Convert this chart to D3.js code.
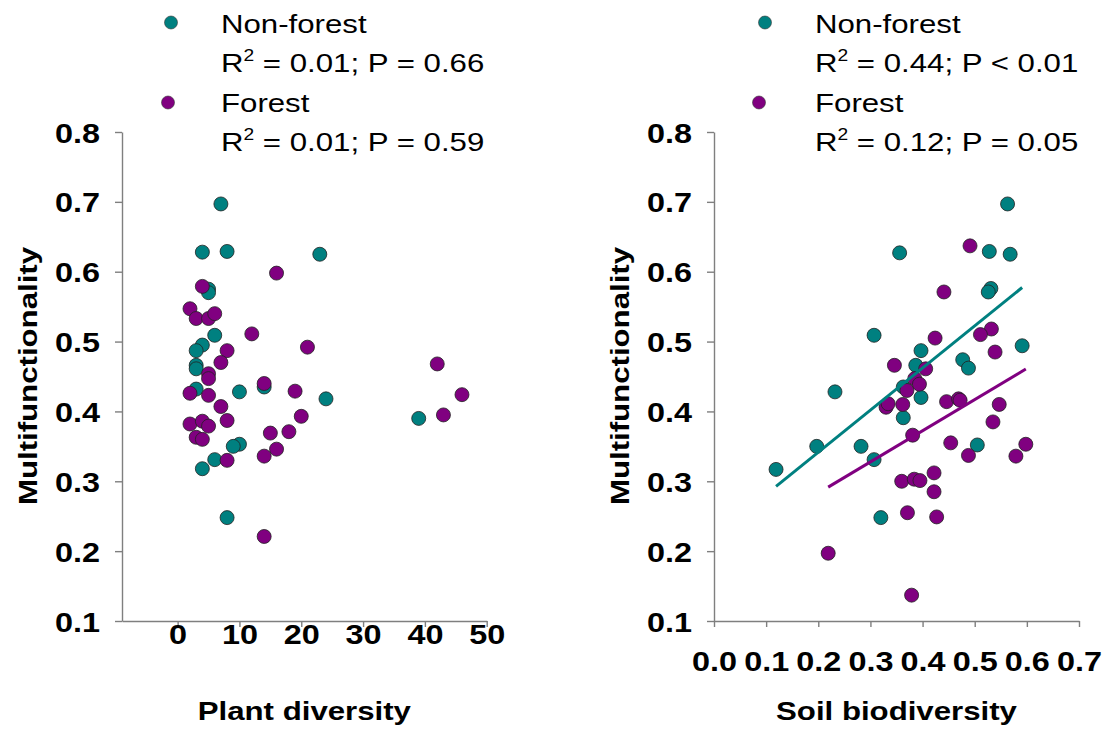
<!DOCTYPE html>
<html>
<head>
<meta charset="utf-8">
<script src="https://cdn.jsdelivr.net/npm/d3@7"></script>
<style>
  body { margin: 0; background: #fff; }
  text { font-family: "Liberation Sans", Arial, sans-serif; }
</style>
</head>
<body>
<svg id="chart" width="1107" height="731"></svg>
<script>
// ---- data ----
var plantNonForestX = [7, 4, 8, 23, 5, 5, 6, 4, 3, 3, 3, 3, 10, 14, 24, 10, 9, 6, 4, 8, 39];
var plantNonForestY = [0.697, 0.628, 0.629, 0.625, 0.575, 0.570, 0.509, 0.495, 0.487, 0.466, 0.461, 0.432, 0.428, 0.435, 0.418, 0.353, 0.350, 0.331, 0.318, 0.248, 0.390];

var plantForestX = [16, 4, 2, 3, 5, 6, 12, 8, 7, 21, 5, 5, 2, 5, 14, 19, 7, 2, 4, 5, 8, 20, 15, 18, 3, 4, 16, 14, 8, 14, 42, 46, 43];
var plantForestY = [0.598, 0.579, 0.547, 0.533, 0.533, 0.540, 0.511, 0.487, 0.470, 0.492, 0.454, 0.447, 0.426, 0.423, 0.440, 0.429, 0.407, 0.382, 0.386, 0.379, 0.387, 0.393, 0.369, 0.371, 0.363, 0.360, 0.346, 0.336, 0.330, 0.221, 0.468, 0.424, 0.395];

var soilNonForestX = [0.356, 0.307, 0.397, 0.387, 0.232, 0.363, 0.397, 0.363, 0.197, 0.282, 0.307, 0.119, 0.320, 0.563, 0.528, 0.568, 0.531, 0.526, 0.591, 0.477, 0.488, 0.505];
var soilNonForestY = [0.627, 0.509, 0.487, 0.466, 0.428, 0.435, 0.420, 0.391, 0.350, 0.350, 0.331, 0.317, 0.248, 0.697, 0.629, 0.625, 0.576, 0.571, 0.494, 0.474, 0.462, 0.352];

var soilForestX = [0.424, 0.346, 0.406, 0.385, 0.394, 0.370, 0.330, 0.334, 0.362, 0.381, 0.360, 0.384, 0.395, 0.422, 0.422, 0.371, 0.427, 0.219, 0.379, 0.491, 0.441, 0.532, 0.511, 0.539, 0.446, 0.469, 0.472, 0.547, 0.535, 0.454, 0.488, 0.598, 0.579];
var soilForestY = [0.505, 0.466, 0.461, 0.447, 0.439, 0.430, 0.406, 0.411, 0.410, 0.366, 0.300, 0.303, 0.301, 0.312, 0.285, 0.255, 0.249, 0.197, 0.137, 0.637, 0.571, 0.518, 0.510, 0.485, 0.414, 0.418, 0.416, 0.410, 0.385, 0.355, 0.337, 0.353, 0.336];

// fitted lines (intercept, slope) for the soil panel
var soilFitNonForest = [0.221, 0.603];
var soilFitForest = [0.194, 0.446];

var yTicks = [0.1, 0.2, 0.3, 0.4, 0.5, 0.6, 0.7, 0.8];
var plantTicks = [0, 10, 20, 30, 40, 50];
var soilTicks = [0, 0.1, 0.2, 0.3, 0.4, 0.5, 0.6, 0.7];

var statsPlant = ["0.01; P = 0.66", "0.01; P = 0.59"];
var statsSoil = ["0.44; P < 0.01", "0.12; P = 0.05"];

var teal = "#008080", purple = "#800080";
var stretch = "scale(1.2,1)";

var svg = d3.select("#chart");

function zip(xs, ys) {
  return xs.map(function (d, i) { return [d, ys[i]]; });
}

function drawPanel(o) {
  var x = d3.scaleLinear().domain(o.xDomain).range(o.xRange);
  var y = d3.scaleLinear().domain([0.1, 0.8]).range([621, 132]);
  var g = svg.append("g");

  // y axis
  var ya = g.append("g")
    .attr("transform", "translate(" + o.xRange[0] + ",0)")
    .call(d3.axisLeft(y).tickValues(yTicks).tickSize(7).tickSizeOuter(0).tickFormat(d3.format(".1f")));
  // x axis
  var xa = g.append("g")
    .attr("transform", "translate(0,621)")
    .call(d3.axisBottom(x).tickValues(o.xTicks).tickSize(6).tickSizeOuter(0).tickFormat(o.xFormat));

  [ya, xa].forEach(function (a) {
    a.select(".domain").attr("stroke", "#7f7f7f").attr("stroke-width", 1.4);
    a.selectAll(".tick line").attr("stroke", "#7f7f7f").attr("stroke-width", 1.4);
    a.selectAll("text").attr("fill", "#000").attr("font-size", 27).attr("font-weight", "bold")
      .attr("font-family", "Liberation Sans, Arial, sans-serif");
  });
  ya.selectAll(".tick text").attr("x", null).attr("dy", null)
    .attr("text-anchor", "end")
    .attr("transform", "translate(-22,10) " + stretch);
  xa.selectAll(".tick text").attr("y", null).attr("dy", null)
    .attr("text-anchor", "middle")
    .attr("transform", "translate(0," + o.tickBase + ") " + stretch);

  // axis titles
  g.append("text")
    .attr("transform", "translate(" + ((o.xRange[0] + o.xRange[1]) / 2) + "," + o.titleBase + ") " + stretch)
    .attr("text-anchor", "middle").attr("font-size", 26).attr("font-weight", "bold")
    .text(o.xTitle);
  g.append("text")
    .attr("transform", "translate(" + (o.xRange[0] - 85) + ",376) rotate(-90) " + stretch)
    .attr("text-anchor", "middle").attr("font-size", 26).attr("font-weight", "bold")
    .text("Multifunctionality");

  // points
  var groups = [
    { pts: zip(o.nfX, o.nfY), color: teal },
    { pts: zip(o.fX, o.fY), color: purple }
  ];
  groups.forEach(function (grp) {
    g.append("g").selectAll("circle")
      .data(grp.pts)
      .enter()
      .append("circle")
      .attr("cx", function (d) { return x(d[0]); })
      .attr("cy", function (d) { return y(d[1]); })
      .attr("r", 7)
      .attr("fill", grp.color)
      .attr("stroke", "#222")
      .attr("stroke-width", 0.8);
  });

  // fit lines
  if (o.fits) {
    o.fits.forEach(function (f) {
      var ext = d3.extent(f.xs);
      var line = d3.line()
        .x(function (d) { return x(d); })
        .y(function (d) { return y(f.coef[0] + f.coef[1] * d); });
      g.append("path")
        .attr("d", line(ext))
        .attr("stroke", f.color)
        .attr("stroke-width", 3)
        .attr("fill", "none");
    });
  }

  // legend
  var lg = g.append("g");
  var rows = [
    { label: "Non-forest", stat: o.stats[0], color: teal, dotX: o.legX - 50, dotY: 22.5, base: 33 },
    { label: "Forest", stat: o.stats[1], color: purple, dotX: o.legX - 53 - o.legShift, dotY: 102.5, base: 112 }
  ];
  rows.forEach(function (r) {
    lg.append("circle").attr("cx", r.dotX).attr("cy", r.dotY).attr("r", 6.5)
      .attr("fill", r.color).attr("stroke", "#333").attr("stroke-width", 0.6);
    lg.append("text")
      .attr("transform", "translate(" + o.legX + "," + r.base + ") " + stretch)
      .attr("font-size", 26).text(r.label);
    var t = lg.append("text")
      .attr("transform", "translate(" + o.legX + "," + (r.base + 38.5) + ") " + stretch)
      .attr("font-size", 26);
    t.append("tspan").text("R");
    t.append("tspan").attr("font-size", 16).attr("dy", -11).text("2");
    t.append("tspan").attr("dy", 11).text(" = " + r.stat);
  });
}

drawPanel({
  xDomain: [-9, 50], xRange: [122, 486.7], xTicks: plantTicks, xFormat: d3.format("d"),
  tickBase: 23, titleBase: 720, xTitle: "Plant diversity",
  nfX: plantNonForestX, nfY: plantNonForestY, fX: plantForestX, fY: plantForestY,
  stats: statsPlant, legX: 221, legShift: 0
});

drawPanel({
  xDomain: [0, 0.7], xRange: [714, 1079], xTicks: soilTicks, xFormat: d3.format(".1f"),
  tickBase: 50, titleBase: 720, xTitle: "Soil biodiversity",
  nfX: soilNonForestX, nfY: soilNonForestY, fX: soilForestX, fY: soilForestY,
  fits: [
    { xs: soilNonForestX, coef: soilFitNonForest, color: teal },
    { xs: soilForestX, coef: soilFitForest, color: purple }
  ],
  stats: statsSoil, legX: 815, legShift: 3
});
</script>
</body>
</html>
